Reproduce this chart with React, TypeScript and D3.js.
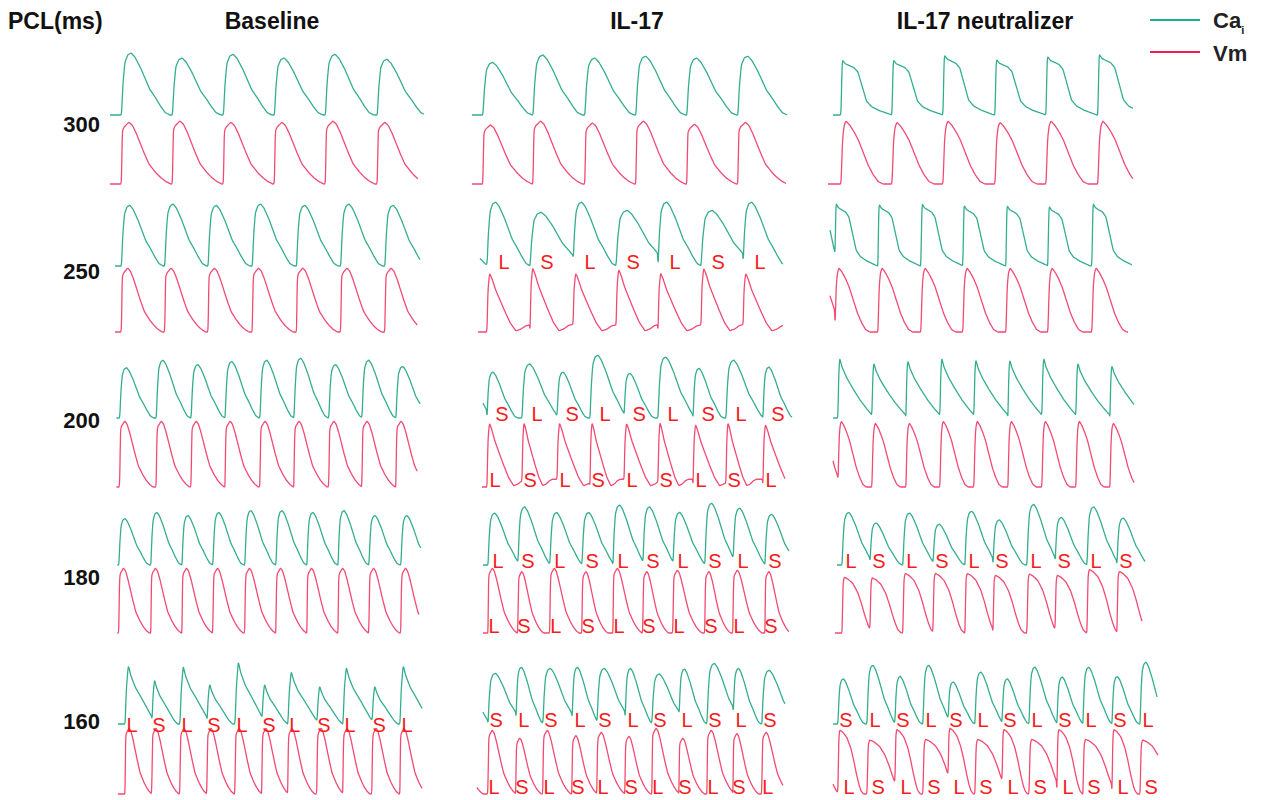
import React from "react";
import * as d3 from "d3";

const PCL = ["300", "250", "200", "180", "160"];
const GROUPS = ["Baseline", "IL-17", "IL-17 neutralizer"];

// single-beat shapes: [fraction of beat duration, level]
const CA_TRI = [[0, 0], [0.03, 0.5], [0.07, 0.85], [0.13, 0.97], [0.2, 1], [0.28, 0.93], [0.4, 0.75], [0.58, 0.42], [0.7, 0.28], [0.8, 0.15], [0.9, 0.04], [1, 0]];
const CA_SPIKE = [[0, 0], [0.04, 0.6], [0.1, 1], [0.18, 0.82], [0.32, 0.62], [0.5, 0.45], [0.7, 0.25], [0.85, 0.1], [1, 0]];
const CA_SQ = [[0, 0], [0.012, 0.6], [0.025, 1], [0.08, 0.93], [0.15, 0.9], [0.25, 0.86], [0.33, 0.78], [0.42, 0.5], [0.5, 0.25], [0.6, 0.15], [0.75, 0.08], [1, 0]];
const CA_SAW = [[0, 0], [0.02, 0.7], [0.05, 1], [0.12, 0.85], [0.25, 0.68], [0.45, 0.48], [0.65, 0.3], [0.85, 0.15], [1, 0.05]];
const VM_B = [[0, 0], [0.015, 0.85], [0.05, 0.92], [0.15, 1], [0.22, 0.95], [0.3, 0.82], [0.46, 0.5], [0.56, 0.32], [0.7, 0.18], [0.8, 0.1], [0.9, 0.04], [1, 0]];
const VM_IL = [[0, 0], [0.02, 0.7], [0.06, 1], [0.12, 0.9], [0.2, 0.72], [0.3, 0.55], [0.42, 0.35], [0.55, 0.15], [0.68, 0.02], [0.8, 0.05], [0.9, 0.1], [1, 0.12]];
const VM_N = [[0, 0], [0.03, 0.7], [0.06, 0.92], [0.1, 1], [0.18, 0.93], [0.27, 0.82], [0.35, 0.7], [0.45, 0.5], [0.55, 0.3], [0.65, 0.15], [0.75, 0.04], [0.85, 0], [1, 0]];
const VM_DOME = [[0, 0], [0.03, 0.9], [0.07, 1], [0.2, 0.96], [0.35, 0.88], [0.5, 0.72], [0.62, 0.52], [0.72, 0.32], [0.82, 0.15], [0.9, 0.05], [1, 0]];

// beats: [onset ms, Ca peak, Vm peak, Ca duration ms, Vm duration ms]
const BASE_300 = [[50, 1.0, 0.98, 285, 290], [350, 0.92, 1, 285, 290], [650, 0.98, 0.98, 285, 290], [950, 0.92, 0.98, 285, 290], [1250, 0.98, 1, 285, 290], [1555, 0.9, 0.98, 285, 290]];
const BASE_250 = [[50, 0.95, 1, 245, 240], [305, 0.97, 1, 245, 240], [560, 0.95, 1, 245, 240], [820, 0.97, 1, 245, 240], [1080, 0.95, 1, 245, 240], [1340, 0.97, 1, 245, 240], [1600, 0.95, 1, 245, 240]];
const BASE_200 = [[40, 0.8, 1, 200, 195], [255, 0.92, 1, 200, 195], [460, 0.85, 1, 200, 195], [660, 0.9, 1, 200, 195], [865, 0.92, 1, 200, 195], [1065, 0.95, 1, 200, 195], [1270, 0.85, 1, 200, 195], [1465, 0.92, 1, 200, 195], [1665, 0.82, 1, 200, 195]];
const BASE_180 = [[35, 0.75, 1, 180, 178], [223, 0.85, 1, 180, 178], [406, 0.8, 1, 180, 178], [588, 0.85, 1, 180, 178], [776, 0.88, 1, 180, 178], [959, 0.88, 1, 180, 178], [1141, 0.85, 1, 180, 178], [1324, 0.88, 1, 180, 178], [1506, 0.8, 1, 180, 178], [1694, 0.8, 1, 180, 178]];
const BASE_160 = [[71, 0.95, 1, 190, 158], [229, 0.72, 1, 150, 158], [394, 0.93, 1, 190, 158], [553, 0.65, 1, 150, 158], [718, 1.0, 1, 190, 158], [876, 0.65, 1, 150, 158], [1029, 0.85, 1, 190, 158], [1200, 0.62, 1, 150, 158], [1353, 0.92, 1, 190, 158], [1524, 0.62, 1, 150, 158], [1688, 0.95, 1, 190, 158]];

const IL_300 = [[35, 0.85, 0.94, 290, 290], [330, 0.97, 1.0, 290, 290], [635, 0.92, 0.97, 290, 290], [935, 0.95, 1.0, 290, 290], [1235, 0.92, 0.95, 290, 290], [1535, 0.95, 0.98, 290, 290]];
const IL_250 = [[-250, 0.87, 0, 330, 250], [59, 1.0, 0.92, 255, 250], [312, 0.84, 1.0, 330, 250], [565, 1.0, 0.92, 255, 250], [818, 0.87, 0.98, 330, 250], [1065, 1.0, 0.92, 255, 250], [1318, 0.87, 1.0, 330, 250], [1565, 1.0, 0.92, 255, 250]];
const IL_200 = [[-130, 0.92, 0, 230, 200], [59, 0.73, 0.97, 180, 230], [265, 0.86, 0.98, 230, 180], [471, 0.73, 0.97, 180, 230], [665, 1.0, 0.98, 230, 180], [865, 0.71, 0.97, 180, 230], [1065, 0.97, 0.98, 230, 180], [1271, 0.79, 0.95, 180, 230], [1465, 0.92, 0.98, 230, 180], [1682, 0.81, 0.95, 180, 230]];
const IL_180 = [[65, 0.84, 1, 200, 170], [241, 0.94, 0.95, 200, 150], [429, 0.85, 1, 200, 170], [618, 0.85, 0.95, 200, 150], [800, 0.97, 1, 200, 170], [976, 0.94, 0.95, 200, 150], [1153, 0.85, 0.97, 200, 170], [1341, 1.0, 0.95, 200, 150], [1506, 0.92, 0.97, 200, 170], [1694, 0.82, 0.95, 200, 150]];
const IL_160 = [[-130, 0.9, 0.9, 220, 165], [65, 0.82, 0.97, 220, 165], [229, 0.92, 0.85, 165, 150], [388, 0.9, 0.97, 220, 165], [559, 0.92, 0.89, 165, 150], [706, 0.9, 0.94, 220, 165], [871, 0.9, 0.88, 165, 150], [1029, 0.81, 1.0, 220, 165], [1188, 0.89, 0.85, 165, 150], [1353, 0.98, 0.97, 220, 165], [1506, 0.9, 0.92, 165, 150], [1676, 0.87, 0.94, 220, 165]];

const NEU_300 = [[65, 0.89, 1, 300, 290], [365, 0.89, 0.98, 300, 290], [665, 0.97, 1, 300, 290], [971, 0.9, 0.98, 300, 290], [1271, 0.95, 1, 300, 290], [1576, 0.98, 1, 300, 290]];
const NEU_250 = [[-100, 1, 1, 250, 240], [29, 0.98, 1, 250, 240], [282, 0.97, 1, 250, 240], [535, 0.98, 1, 250, 240], [782, 0.95, 1, 250, 240], [1035, 0.95, 1, 250, 240], [1282, 0.94, 1, 250, 240], [1541, 0.98, 1, 250, 240]];
const NEU_200 = [[-80, 0, 1, 200, 195], [47, 0.95, 1, 200, 195], [247, 0.88, 0.97, 200, 195], [447, 0.92, 0.97, 200, 195], [647, 0.95, 1, 200, 195], [847, 0.93, 1, 200, 195], [1047, 0.93, 1, 200, 195], [1247, 0.95, 1, 200, 195], [1447, 0.88, 1, 200, 195], [1647, 0.84, 0.97, 200, 195]];
const NEU_180 = [[71, 0.85, 0.86, 200, 185], [235, 0.68, 0.85, 190, 185], [429, 0.84, 0.92, 200, 185], [606, 0.66, 0.92, 190, 185], [794, 0.87, 0.92, 200, 185], [959, 0.73, 0.89, 190, 185], [1159, 0.98, 0.91, 200, 185], [1324, 0.77, 0.89, 190, 185], [1512, 0.94, 0.98, 200, 185], [1688, 0.76, 0.95, 190, 185]];
const NEU_160 = [[-150, 0, 0.82, 170, 210], [47, 0.73, 0.97, 160, 150], [218, 0.95, 0.82, 175, 210], [382, 0.77, 0.98, 160, 150], [547, 0.95, 0.83, 175, 210], [694, 0.68, 1.0, 160, 150], [853, 0.84, 0.83, 175, 210], [1012, 0.73, 0.98, 160, 150], [1171, 0.92, 0.83, 175, 210], [1335, 0.76, 0.98, 160, 150], [1488, 0.92, 0.83, 175, 210], [1659, 0.77, 0.98, 160, 150], [1824, 1.0, 0.82, 175, 210]];

// visible time window of each trace [start, end] ms: Ca then Vm
const SPANS = [
  [[[-18, 1829], [-18, 1794]], [[-29, 1824], [-29, 1818]], [[18, 1782], [-12, 1782]]],
  [[[12, 1806], [12, 1790]], [[18, 1800], [6, 1800]], [[0, 1776], [0, 1753]]],
  [[[20, 1806], [20, 1790]], [[35, 1853], [29, 1812]], [[18, 1788], [18, 1788]]],
  [[[25, 1810], [25, 1800]], [[35, 1835], [35, 1835]], [[41, 1853], [29, 1835]]],
  [[[29, 1818], [29, 1818]], [[35, 1812], [0, 1800]], [[18, 1924], [18, 1929]]],
];

// L / S annotations (one per beat shown), Ca row then Vm row
const LABELS_BASE_160 = ["LSLSLSLSLSL", ""];
const LABELS_IL_250 = ["LSLSLSL", ""];
const LABELS_IL_200 = ["SLSLSLSLS", "LSLSLSLSL"];
const LABELS_IL_180 = ["LSLSLSLSLS", "LSLSLSLSLS"];
const LABELS_IL_160 = ["SLSLSLSLSLS", "LSLSLSLSLSL"];
const LABELS_NEU_180 = ["LSLSLSLSLS", ""];
const LABELS_NEU_160 = ["SLSLSLSLSLSL", "LSLSLSLSLSLS"];

const BEATS = [
  [BASE_300, IL_300, NEU_300],
  [BASE_250, IL_250, NEU_250],
  [BASE_200, IL_200, NEU_200],
  [BASE_180, IL_180, NEU_180],
  [BASE_160, IL_160, NEU_160],
];
const SHAPES = [
  [[CA_TRI, VM_B], [CA_TRI, VM_B], [CA_SQ, VM_N]],
  [[CA_TRI, VM_B], [CA_TRI, VM_IL], [CA_SQ, VM_N]],
  [[CA_TRI, VM_B], [CA_TRI, VM_IL], [CA_SAW, VM_N]],
  [[CA_TRI, VM_B], [CA_TRI, VM_B], [CA_TRI, VM_DOME]],
  [[CA_SPIKE, VM_B], [CA_TRI, VM_B], [CA_TRI, VM_DOME]],
];
const LABELS = [
  [null, null, null],
  [null, LABELS_IL_250, null],
  [null, LABELS_IL_200, null],
  [null, LABELS_IL_180, LABELS_NEU_180],
  [LABELS_BASE_160, LABELS_IL_160, LABELS_NEU_160],
];

// layout
const W = 1263;
const H = 800;
const COL_X = [113, 477, 830];
const COL_TITLE_X = [272, 637, 985];
const TRACE_W = 314.5;
// per row: Ca top, Ca base, Vm top, Vm base
const BANDS = [[53, 115, 121, 184], [202, 266, 268, 332], [355, 418, 421, 487], [503, 565, 568, 633], [662, 724, 728, 794]];
const ROW_LABEL_Y = [132, 279, 428, 585, 729];
// label x nudges (px) from each upstroke: [Ca, Vm]
const LABEL_SHIFT = {
  "1-1": [17, 0], "2-1": [15, 8], "3-1": [10, 6], "3-2": [9, 0],
  "4-0": [7, 0], "4-1": [8, 6], "4-2": [8, 11],
};

const CA_COLOR = "#34ad90";
const VM_COLOR = "#f24a72";
const TXT_RED = "#f51c1c";
const FONT = "'Liberation Sans', Arial, sans-serif";

const shapeFn = tpl => d3.scaleLinear().domain(tpl.map(d => d[0])).range(tpl.map(d => d[1])).clamp(true);

function levelAt(beats, ampIdx, durIdx, shape, t) {
  let b = null;
  for (const d of beats) if (d[0] <= t) b = d;
  if (!b) return 0;
  return shape((t - b[0]) / b[durIdx]) * b[ampIdx];
}

const Trace = ({ beats, tpl, span, ampIdx, durIdx, x, y, color }) => {
  const shape = shapeFn(tpl);
  const ts = d3.range(span[0], span[1], 3).concat([span[1]]);
  const pts = ts.map(t => [x(t), y(levelAt(beats, ampIdx, durIdx, shape, t))]);
  const line = d3.line().curve(d3.curveBasis);
  return <path d={line(pts)} fill="none" stroke={color} strokeWidth={1.3} strokeLinejoin="round" />;
};

const Panel = ({ r, c }) => {
  const beats = BEATS[r][c];
  const [caTpl, vmTpl] = SHAPES[r][c];
  const [caSpan, vmSpan] = SPANS[r][c];
  const band = BANDS[r];
  const x = d3.scaleLinear().domain([0, 1850]).range([COL_X[c], COL_X[c] + TRACE_W]);
  const yCa = d3.scaleLinear().domain([0, 1]).range([band[1], band[0]]);
  const yVm = d3.scaleLinear().domain([0, 1]).range([band[3], band[2]]);
  const labels = LABELS[r][c];
  const shift = LABEL_SHIFT[`${r}-${c}`] || [0, 0];
  const shown = beats.filter(d => d[0] >= 0);
  return (
    <g>
      <Trace beats={beats} tpl={caTpl} span={caSpan} ampIdx={1} durIdx={3} x={x} y={yCa} color={CA_COLOR} />
      <Trace beats={beats} tpl={vmTpl} span={vmSpan} ampIdx={2} durIdx={4} x={x} y={yVm} color={VM_COLOR} />
      {labels && labels[0].split("").map((s, i) => (
        <text key={"c" + i} x={x(shown[i][0]) + shift[0]} y={band[1] + (r === 4 && c === 0 ? 8 : 3)}
          textAnchor="middle" fill={TXT_RED} fontSize="20" fontFamily={FONT}>{s}</text>
      ))}
      {labels && labels[1].split("").map((s, i) => (
        <text key={"v" + i} x={x(shown[i][0]) + shift[1]} y={band[3]}
          textAnchor="middle" fill={TXT_RED} fontSize="20" fontFamily={FONT}>{s}</text>
      ))}
    </g>
  );
};

const App = () => (
  <svg width={W} height={H} style={{ position: "absolute", left: 0, top: 0, background: "#fff" }}>
    <g fontFamily={FONT} fontWeight="bold" fill="#111">
      <text x={8} y={29} fontSize="23">PCL(ms)</text>
      {GROUPS.map((g, i) => (
        <text key={g} x={COL_TITLE_X[i]} y={29} fontSize="23" textAnchor="middle">{g}</text>
      ))}
      {PCL.map((p, i) => (
        <text key={p} x={100} y={ROW_LABEL_Y[i]} fontSize="22" textAnchor="end">{p}</text>
      ))}
    </g>
    {PCL.map((p, r) => GROUPS.map((g, c) => <Panel key={p + g} r={r} c={c} />))}
    <g fontFamily={FONT} fontWeight="bold">
      <line x1={1150} x2={1200} y1={20} y2={20} stroke="#1fae8c" strokeWidth={2} />
      <text x={1213} y={28} fontSize="22" fill="#222">Ca<tspan fontSize="11" dy="6">i</tspan></text>
      <line x1={1150} x2={1200} y1={52} y2={52} stroke="#ee1c4f" strokeWidth={2} />
      <text x={1213} y={61} fontSize="22" fill="#222">Vm</text>
    </g>
  </svg>
);

export default App;
